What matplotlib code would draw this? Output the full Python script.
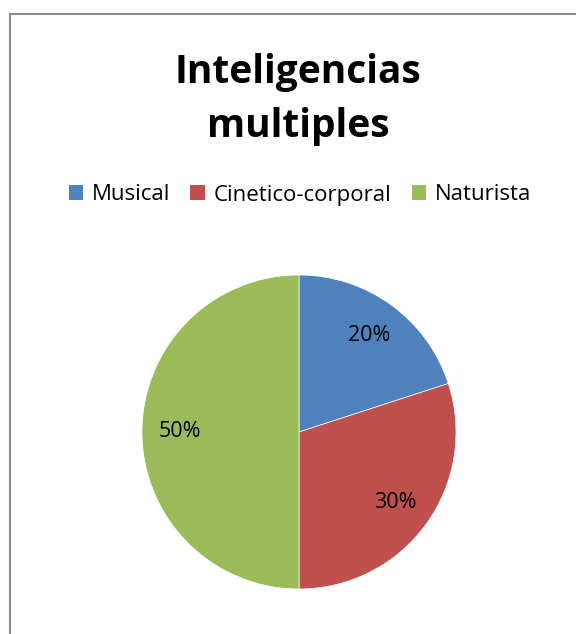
import matplotlib.pyplot as plt
from matplotlib.lines import Line2D
from matplotlib.patches import Patch

categories = ['Musical', 'Cinetico-corporal', 'Naturista']
values = [20, 30, 50]
colors = ['#4F81BD', '#C0504D', '#9BBB59']

plt.rcParams['font.family'] = ['Open Sans', 'DejaVu Sans']

fig = plt.figure(figsize=(5.76, 6.34), dpi=100)

# chart frame (only left and top edges show in the crop)
fig.add_artist(Line2D([10/576, 10/576], [0, 1 - 14/634], color='#8c8c8c', lw=1.5))
fig.add_artist(Line2D([10/576, 1], [1 - 14/634, 1 - 14/634], color='#8c8c8c', lw=1.5))

fig.text(298/576, 1 - 72/634, 'Inteligencias', ha='center', va='center',
         fontsize=28, fontweight='bold')
fig.text(298/576, 1 - 126/634, 'multiples', ha='center', va='center',
         fontsize=28, fontweight='bold')

ax = fig.add_axes([(299 - 157)/576, 45/634, 314/576, 314/634])
wedges, texts, autotexts = ax.pie(values, colors=colors, startangle=90, counterclock=False,
                                  autopct='%d%%', pctdistance=0.76,
                                  wedgeprops=dict(edgecolor='white', linewidth=0.5),
                                  textprops=dict(fontsize=15.5, color='black'))
ax.set_xlim(-1, 1)
ax.set_ylim(-1, 1)

handles = [Patch(facecolor=c, edgecolor='none') for c in colors]
fig.legend(handles, categories, loc='center', bbox_to_anchor=(300/576, 1 - 195/634),
           ncol=3, frameon=False, fontsize=16, handlelength=0.65, handleheight=0.65,
           handletextpad=0.4, columnspacing=0.9)

fig.savefig('out.png')
